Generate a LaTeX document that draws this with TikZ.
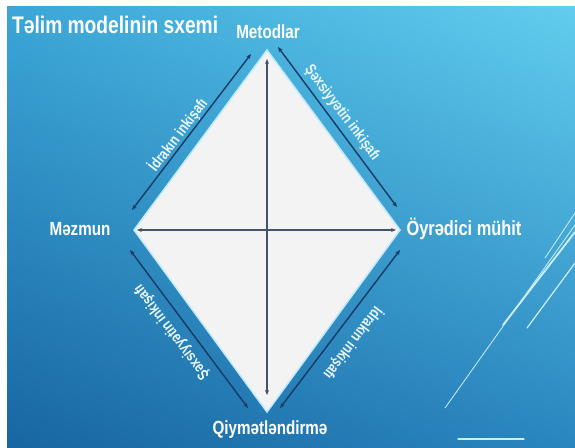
\documentclass[tikz,border=0pt]{standalone}
\usepackage{fontspec}
\setmainfont{Liberation Sans}
\newfontfamily\nar[FakeStretch=0.8]{Liberation Sans}
\usetikzlibrary{arrows.meta,shadings}
\definecolor{bgTL}{HTML}{3BA6D7}
\definecolor{bgTR}{HTML}{62CDEE}
\definecolor{bgBL}{HTML}{1866A1}
\definecolor{bgBR}{HTML}{2A86BF}
\definecolor{diam}{HTML}{F3F3F3}
\definecolor{inner}{HTML}{45536A}
\definecolor{outer}{HTML}{173A66}
\tikzset{
  lbl/.style={text=white,font=\nar\bfseries\fontsize{19}{21}\selectfont,inner sep=0pt},
  elbl/.style={text=white!92!cyan,font=\nar\bfseries\fontsize{15.5}{17}\selectfont,inner sep=0pt},
  innerarr/.style={draw=inner,line width=1.1pt,{Stealth[length=5pt,width=4pt]}-{Stealth[length=5pt,width=4pt]}},
  outerarr/.style={draw=outer,line width=1.4pt,{Stealth[length=5pt,width=4pt]}-{Stealth[length=5pt,width=4pt]}},
  deco/.style={draw=white!80!cyan,line cap=round}
}
\begin{document}
\begin{tikzpicture}[x=1pt,y=1pt]
\useasboundingbox (0,0) rectangle (575,447);
\fill[white] (0,0) rectangle (575,447);
\shade[upper left=bgTL,upper right=bgTR,lower left=bgBL,lower right=bgBR] (7,0) rectangle (575,440);
% decorative lines
\draw[deco,line width=0.8pt] (445,39) -- (575,222);
\draw[deco,line width=1.8pt] (503,122) -- (575,215);
\draw[deco,line width=0.8pt] (545,189) -- (575,234);
\draw[deco,line width=1.2pt] (527,119) -- (575,184);
\draw[deco,line width=1.3pt] (458,8) -- (524,8);
% diamond
\coordinate (T) at (267,397);
\coordinate (L) at (134,217);
\coordinate (R) at (400,217);
\coordinate (B) at (267,35);
\fill[diam,draw=cyan!25,line width=1.5pt] (T) -- (R) -- (B) -- (L) -- cycle;
% inner arrows
\coordinate (vt) at (267,388);
\coordinate (vb) at (267,52);
\coordinate (hl) at (137,217);
\coordinate (hr) at (396,217);
\draw[innerarr] (vt) -- (vb);
\draw[innerarr] (hl) -- (hr);
% outer arrows
\coordinate (tl1) at (132,237); \coordinate (tl2) at (251,393);
\coordinate (tr1) at (278,400); \coordinate (tr2) at (397,240);
\coordinate (bl1) at (130,197); \coordinate (bl2) at (248,39);
\coordinate (br1) at (400,197); \coordinate (br2) at (280,39);
\draw[outerarr] (tl1) -- (tl2);
\draw[outerarr] (tr1) -- (tr2);
\draw[outerarr] (bl1) -- (bl2);
\draw[outerarr] (br1) -- (br2);
% edge labels
\node[elbl,rotate=53] (ltl) at (178,312) {İdrakın inkişafı};
\node[elbl,rotate=-53] (ltr) at (342,334) {Şəxsiyyətin inkişafı};
\node[elbl,rotate=127] (lbl) at (172,115) {Şəxsiyyətin inkişafı};
\node[elbl,rotate=-127] (lbr) at (353,104) {İdrakın inkişafı};
% vertex labels
\node[lbl] (met) at (268,415) {Metodlar};
\node[lbl] (mez) at (80,218) {Məzmun};
\node[lbl,font=\nar\bfseries\fontsize{20.5}{22}\selectfont] (oyr) at (464,218) {Öyrədici mühit};
\node[lbl] (qiy) at (270,17) {Qiymətləndirmə};
\node[lbl,anchor=west,font=\nar\bfseries\fontsize{24}{26}\selectfont] (title) at (12,422) {Təlim modelinin sxemi};
\end{tikzpicture}
\end{document}
